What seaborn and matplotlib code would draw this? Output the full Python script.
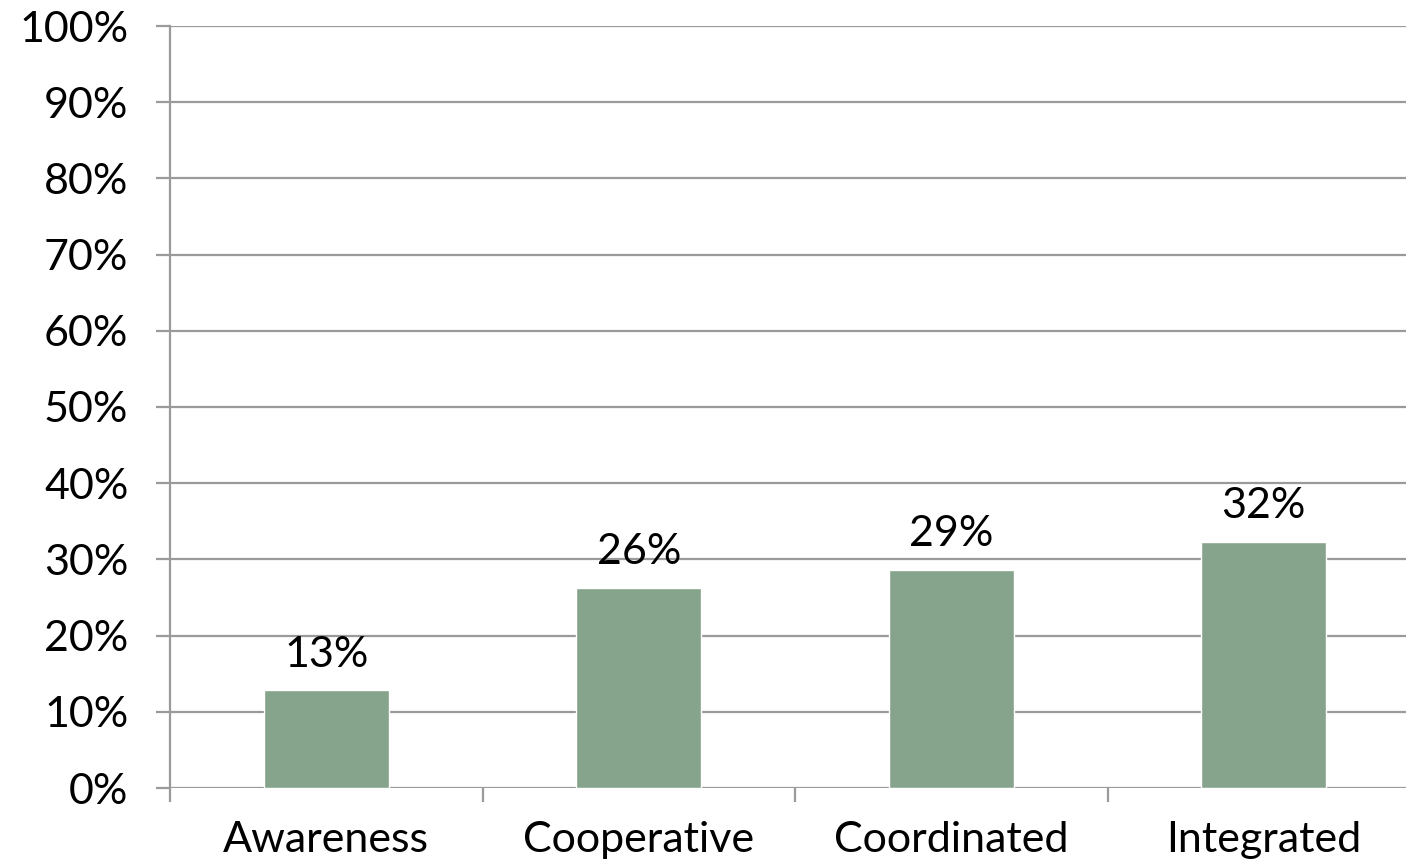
import matplotlib
matplotlib.use("Agg")
import matplotlib.pyplot as plt
import seaborn as sns
import pandas as pd
from matplotlib.ticker import FixedLocator

categories = ["Awareness", "Cooperative", "Coordinated", "Integrated"]
shares = [12.8, 26.3, 28.6, 32.3]
y_ticks = list(range(0, 101, 10))

sns.set_theme(style="white")
plt.rcParams["font.family"] = ["Lato", "DejaVu Sans"]

df = pd.DataFrame({"level": categories, "share": shares})

fig = plt.figure(figsize=(14.06, 8.65), dpi=100)
ax = fig.add_axes([170 / 1406, 1 - 788 / 865, (1420 - 170) / 1406, (788 - 26) / 865])

grid_color = "#9a9a9a"
for t in y_ticks:
    ax.axhline(t, color=grid_color, lw=1.6, zorder=0)

sns.barplot(data=df, x="level", y="share", color="#86A48B", width=0.40,
            saturation=1, ax=ax, zorder=2)

for i, v in enumerate(shares):
    ax.text(i, v + 2.2, f"{round(v)}%", ha="center", va="bottom",
            fontsize=31, color="black", zorder=3)

ax.set_xlim(-0.5, 3.5)
ax.set_ylim(0, 100)
ax.set_yticks(y_ticks)
ax.set_yticklabels([f"{t}%" for t in y_ticks])
ax.set_xlabel("")
ax.set_ylabel("")

for side in ["top", "right", "bottom"]:
    ax.spines[side].set_visible(False)
ax.spines["left"].set_color(grid_color)
ax.spines["left"].set_linewidth(1.6)

ax.tick_params(axis="y", which="major", left=True, length=10, width=1.6,
               color=grid_color, pad=20, labelsize=31, labelcolor="black")
ax.tick_params(axis="x", which="major", bottom=False, length=0, pad=24,
               labelsize=31, labelcolor="black")
ax.xaxis.set_minor_locator(FixedLocator([-0.5, 0.5, 1.5, 2.5]))
ax.tick_params(axis="x", which="minor", bottom=True, length=10, width=1.6,
               color=grid_color)

fig.savefig("out.png", dpi=100)
